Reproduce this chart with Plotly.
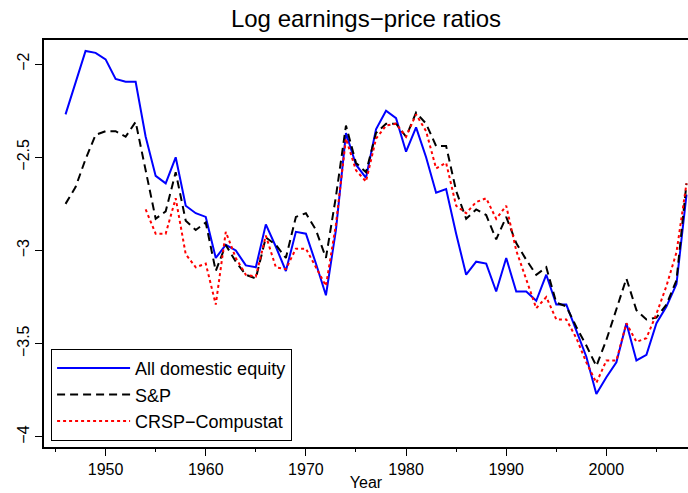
import plotly.graph_objects as go

# Annual log earnings-price ratios, 1946-2008
years = list(range(1946, 2009))

all_equity = [
    -2.27, -2.10, -1.93, -1.94, -1.975, -2.08, -2.095, -2.095, -2.39, -2.60,
    -2.64, -2.50, -2.76, -2.80, -2.82, -3.04, -2.97, -3.00, -3.08, -3.09,
    -2.86, -2.98, -3.11, -2.90, -2.91, -3.07, -3.24, -2.89, -2.37, -2.54,
    -2.61, -2.35, -2.25, -2.29, -2.47, -2.34, -2.50, -2.69, -2.67, -2.91,
    -3.13, -3.06, -3.07, -3.22, -3.04, -3.22, -3.22, -3.27, -3.13, -3.29,
    -3.29, -3.43, -3.57, -3.77, -3.68, -3.60, -3.39, -3.59, -3.56, -3.39,
    -3.30, -3.18, -2.70,
]

sp = [
    -2.75, -2.66, -2.51, -2.38, -2.36, -2.36, -2.39, -2.31, -2.57, -2.83,
    -2.79, -2.58, -2.84, -2.89, -2.85, -3.11, -2.97, -3.06, -3.13, -3.15,
    -2.93, -2.97, -3.04, -2.82, -2.80, -2.89, -3.04, -2.71, -2.33, -2.53,
    -2.58, -2.37, -2.32, -2.32, -2.39, -2.26, -2.32, -2.44, -2.44, -2.68,
    -2.83, -2.78, -2.81, -2.94, -2.82, -2.96, -3.05, -3.13, -3.09, -3.28,
    -3.30, -3.41, -3.51, -3.62, -3.48, -3.32, -3.15, -3.32, -3.37, -3.36,
    -3.29, -3.16, -2.64,
]

# CRSP-Compustat series begins in 1954
crsp = [None] * 8 + [
    -2.78, -2.91, -2.91, -2.72, -3.02, -3.09, -3.07, -3.29, -2.90, -3.04,
    -3.13, -3.14, -2.92, -3.09, -3.10, -2.99, -2.99, -3.09, -3.19, -2.86,
    -2.40, -2.57, -2.63, -2.40, -2.33, -2.32, -2.39, -2.27, -2.36, -2.56,
    -2.53, -2.76, -2.80, -2.74, -2.72, -2.83, -2.76, -3.00, -3.16, -3.31,
    -3.25, -3.37, -3.37, -3.47, -3.60, -3.71, -3.59, -3.59, -3.39, -3.49,
    -3.47, -3.34, -3.19, -3.01, -2.64,
]

series_names = ["All domestic equity", "S&P", "CRSP\u2212Compustat"]
x_ticks = [1950, 1960, 1970, 1980, 1990, 2000]
y_ticks = [-2, -2.5, -3, -3.5, -4]

FONT = "Liberation Sans, Arial, sans-serif"

fig = go.Figure()
fig.add_trace(go.Scatter(
    x=years, y=all_equity, mode="lines", name=series_names[0],
    line=dict(color="#0000ff", width=2), legendgroup="a",
))
fig.add_trace(go.Scatter(
    x=years, y=sp, mode="lines", name=series_names[1],
    line=dict(color="#000000", width=2, dash="8px,5px"), legendgroup="b",
))
fig.add_trace(go.Scatter(
    x=years, y=crsp, mode="lines", name=series_names[2],
    line=dict(color="#ff0000", width=2, dash="3px,3px"), legendgroup="c",
))

fig.update_layout(
    width=688, height=493,
    margin=dict(l=44, r=0, t=40, b=46),
    paper_bgcolor="white", plot_bgcolor="white",
    font=dict(family=FONT, size=16, color="black"),
    title=dict(
        text="Log earnings\u2212price ratios",
        x=0.532, xanchor="center", y=0.963, yanchor="middle",
        font=dict(family=FONT, size=24, color="black"),
    ),
    showlegend=True,
    legend=dict(
        x=0.011, y=0.015, xanchor="left", yanchor="bottom",
        bgcolor="white", bordercolor="black", borderwidth=1,
        font=dict(family=FONT, size=18, color="black"),
        itemwidth=73, tracegroupgap=0, traceorder="grouped",
    ),
    xaxis=dict(
        range=[1943.85, 2008.15],
        tickmode="array", tickvals=x_ticks,
        ticks="outside", ticklen=7, tickwidth=1, tickcolor="black",
        minor=dict(dtick=5, tick0=1945, ticks="outside", ticklen=3,
                   tickcolor="black", showgrid=False),
        showline=True, linecolor="black", linewidth=1.5, mirror=True,
        showgrid=False, zeroline=False,
        title=dict(text="Year", font=dict(family=FONT, size=16), standoff=0),
        tickfont=dict(family=FONT, size=16),
    ),
    yaxis=dict(
        range=[-4.054, -1.871],
        tickmode="array", tickvals=y_ticks,
        ticktext=["\u22122", "\u22122.5", "\u22123", "\u22123.5", "\u22124"],
        tickangle=-90,
        ticks="outside", ticklen=7, tickwidth=1, tickcolor="black",
        showline=True, linecolor="black", linewidth=1.5, mirror=False,
        showgrid=False, zeroline=False,
        tickfont=dict(family=FONT, size=16),
    ),
)

fig.write_html("out.html")
